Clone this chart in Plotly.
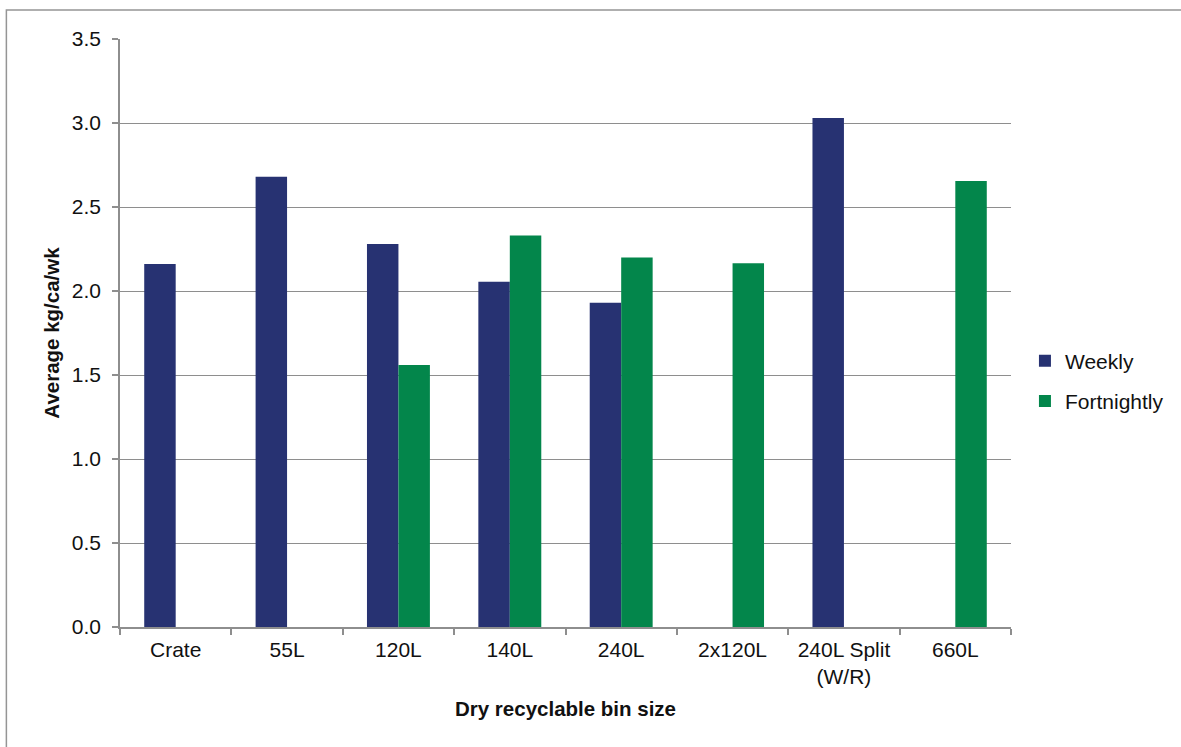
import plotly.graph_objects as go

# Average dry recyclable yield by bin size and collection frequency
bin_sizes = ["Crate", "55L", "120L", "140L", "240L", "2x120L", "240L Split<br>(W/R)", "660L"]
weekly = [2.16, 2.68, 2.28, 2.055, 1.93, None, 3.03, None]
fortnightly = [None, None, 1.56, 2.33, 2.20, 2.165, None, 2.655]

NAVY = "#273272"
GREEN = "#03864b"
GRID = "#8e8e8e"
FONT = "Liberation Sans, Arial, sans-serif"
TXT = "#111111"
FS = 21

# plot area in pixels
W, H = 1181, 747
L, R, T, B = 120, 167, 39, 120
pw, ph = W - L - R, H - T - B

fig = go.Figure()
fig.add_trace(go.Bar(name="Weekly", x=bin_sizes, y=weekly,
                     marker=dict(color=NAVY, line=dict(width=0)), legendgroup="w"))
fig.add_trace(go.Bar(name="Fortnightly", x=bin_sizes, y=fortnightly,
                     marker=dict(color=GREEN, line=dict(width=0)), legendgroup="f"))

# outer chart frame (left and top edges visible)
fig.add_shape(type="rect", xref="paper", yref="paper",
              x0=(6 - L) / pw, x1=(W + 60 - L) / pw,
              y0=-(H + 60 - T - ph) / ph, y1=(T + ph - 10) / ph,
              line=dict(color="#959595", width=1.5), fillcolor="rgba(0,0,0,0)", layer="below")

fig.update_layout(
    width=W, height=H,
    margin=dict(l=L, r=R, t=T, b=B, pad=0),
    paper_bgcolor="white", plot_bgcolor="white",
    font=dict(family=FONT, size=FS, color=TXT),
    barmode="group", bargap=0.435, bargroupgap=0,
    showlegend=True,
    legend=dict(x=(1028 - L) / pw, xanchor="left", y=(T + ph - 381) / ph, yanchor="middle",
                traceorder="grouped", tracegroupgap=10,
                font=dict(family=FONT, size=FS, color=TXT),
                bgcolor="rgba(0,0,0,0)"),
    xaxis=dict(
        title=dict(text="<b>Dry recyclable bin size</b>", standoff=14,
                   font=dict(family=FONT, size=20.5, color=TXT)),
        showline=True, linecolor=GRID, linewidth=1.5,
        ticks="outside", tickson="boundaries", ticklen=6, tickcolor=GRID, tickwidth=1.5,
        showgrid=False, tickfont=dict(size=FS), ticklabelstandoff=3,
    ),
    yaxis=dict(
        title=dict(text="<b>Average kg/ca/wk</b>", standoff=7,
                   font=dict(family=FONT, size=20.5, color=TXT)),
        range=[0, 3.5], dtick=0.5, tickformat=".1f",
        showline=True, linecolor=GRID, linewidth=1.5,
        ticks="outside", ticklen=6, tickcolor=GRID, tickwidth=1.5,
        showgrid=True, gridcolor=GRID, gridwidth=1.3,
        zeroline=False, tickfont=dict(size=FS), ticklabelstandoff=7,
    ),
)

fig.write_html("out.html")
